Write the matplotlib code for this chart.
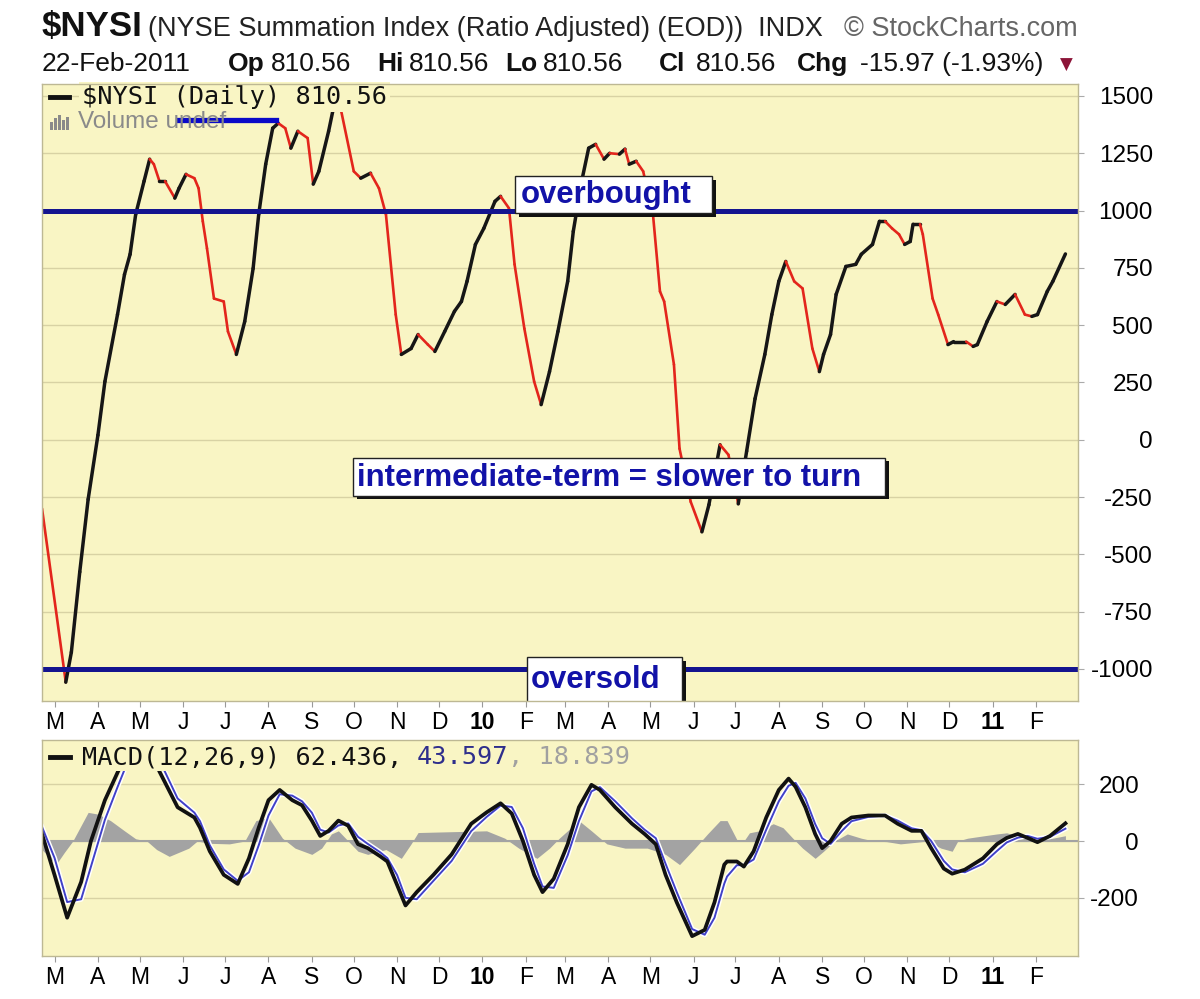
import matplotlib
matplotlib.use("Agg")
import matplotlib.pyplot as plt
import matplotlib.dates as mdates
from matplotlib.collections import LineCollection
from matplotlib.patches import Rectangle
from matplotlib.lines import Line2D
from matplotlib.ticker import FixedLocator
import matplotlib.patheffects as pe
import numpy as np
import pandas as pd

# ---------------- data ----------------
nysi_dates = [
    "2009-02-20", "2009-03-09", "2009-03-13", "2009-03-19", "2009-03-25", "2009-04-01",
    "2009-04-06", "2009-04-15", "2009-04-20", "2009-04-24", "2009-04-28", "2009-05-04",
    "2009-05-08", "2009-05-11", "2009-05-15", "2009-05-19", "2009-05-26", "2009-05-29",
    "2009-06-03", "2009-06-09", "2009-06-12", "2009-06-15", "2009-06-18", "2009-06-23",
    "2009-06-30", "2009-07-03", "2009-07-09", "2009-07-15", "2009-07-21", "2009-07-25",
    "2009-07-30", "2009-08-04", "2009-08-08", "2009-08-13", "2009-08-17", "2009-08-22",
    "2009-08-29", "2009-09-02", "2009-09-06", "2009-09-13", "2009-09-16", "2009-09-18",
    "2009-09-22", "2009-10-01", "2009-10-06", "2009-10-13", "2009-10-19", "2009-10-24",
    "2009-10-31", "2009-11-04", "2009-11-11", "2009-11-16", "2009-11-23", "2009-11-28",
    "2009-12-05", "2009-12-12", "2009-12-17", "2009-12-21", "2009-12-27", "2010-01-02",
    "2010-01-10", "2010-01-14", "2010-01-20", "2010-01-24", "2010-01-31", "2010-02-07",
    "2010-02-12", "2010-02-18", "2010-02-24", "2010-03-03", "2010-03-07", "2010-03-13",
    "2010-03-18", "2010-03-23", "2010-03-29", "2010-04-02", "2010-04-09", "2010-04-13",
    "2010-04-16", "2010-04-21", "2010-04-26", "2010-05-03", "2010-05-08", "2010-05-11",
    "2010-05-18", "2010-05-22", "2010-05-30", "2010-06-07", "2010-06-12", "2010-06-20",
    "2010-06-26", "2010-07-03", "2010-07-09", "2010-07-15", "2010-07-22", "2010-07-27",
    "2010-08-01", "2010-08-06", "2010-08-12", "2010-08-18", "2010-08-25", "2010-08-30",
    "2010-09-02", "2010-09-07", "2010-09-11", "2010-09-18", "2010-09-25", "2010-09-29",
    "2010-10-07", "2010-10-12", "2010-10-16", "2010-10-21", "2010-10-26", "2010-10-30",
    "2010-11-03", "2010-11-05", "2010-11-10", "2010-11-12", "2010-11-19", "2010-11-23",
    "2010-11-30", "2010-12-04", "2010-12-13", "2010-12-18", "2010-12-21", "2010-12-28",
    "2011-01-04", "2011-01-10", "2011-01-17", "2011-01-24", "2011-01-29", "2011-02-02",
    "2011-02-09", "2011-02-13", "2011-02-22",
]
nysi_values = [
    -300, -1058, -927, -577, -260, 20,
    254, 546, 721, 809, 983, 1128,
    1224, 1202, 1128, 1128, 1054, 1097,
    1158, 1141, 1097, 953, 835, 616,
    603, 472, 372, 516, 747, 983,
    1202, 1359, 1381, 1359, 1272, 1346,
    1316, 1115, 1171, 1346, 1434, 1480,
    1434, 1171, 1141, 1163, 1097, 983,
    546, 372, 398, 459, 415, 385,
    472, 560, 603, 691, 852, 922,
    1040, 1062, 1010, 765, 485, 254,
    153, 297, 472, 691, 909, 1128,
    1272, 1289, 1224, 1250, 1246, 1268,
    1202, 1215, 1171, 983, 647, 603,
    328, -39, -271, -402, -284, -22,
    -66, -280, -50, 179, 372, 546,
    691, 778, 691, 660, 398, 297,
    372, 459, 634, 756, 765, 809,
    852, 953, 953, 922, 896, 852,
    865, 940, 940, 896, 616, 546,
    415, 428, 428, 407, 415, 516,
    603, 590, 634, 546, 538, 546,
    647, 691, 810.56,
]

macd_dates = [
    "2009-02-20", "2009-03-01", "2009-03-10", "2009-03-20", "2009-03-27", "2009-04-06",
    "2009-04-15", "2009-04-24", "2009-04-30", "2009-05-15", "2009-05-28", "2009-06-09",
    "2009-06-13", "2009-06-20", "2009-06-30", "2009-07-10", "2009-07-18", "2009-07-25",
    "2009-08-01", "2009-08-09", "2009-08-18", "2009-08-25", "2009-09-01", "2009-09-07",
    "2009-09-13", "2009-09-20", "2009-09-27", "2009-10-04", "2009-10-11", "2009-10-20",
    "2009-10-25", "2009-11-01", "2009-11-07", "2009-11-15", "2009-11-27", "2009-12-10",
    "2009-12-24", "2010-01-04", "2010-01-14", "2010-01-22", "2010-01-30", "2010-02-07",
    "2010-02-13", "2010-02-21", "2010-03-03", "2010-03-11", "2010-03-20", "2010-03-26",
    "2010-04-06", "2010-04-18", "2010-04-27", "2010-05-05", "2010-05-12", "2010-05-20",
    "2010-05-31", "2010-06-09", "2010-06-16", "2010-06-23", "2010-06-25", "2010-07-02",
    "2010-07-07", "2010-07-14", "2010-07-23", "2010-08-01", "2010-08-08", "2010-08-13",
    "2010-08-20", "2010-08-27", "2010-09-01", "2010-09-07", "2010-09-15", "2010-09-22",
    "2010-10-04", "2010-10-16", "2010-10-25", "2010-11-04", "2010-11-11", "2010-11-18",
    "2010-11-27", "2010-12-03", "2010-12-12", "2010-12-25", "2011-01-04", "2011-01-11",
    "2011-01-19", "2011-01-26", "2011-02-02", "2011-02-11", "2011-02-22",
]
macd_values = [
    25, -120, -270, -144, 0, 144,
    241, 340, 420, 245, 119, 83,
    47, -36, -119, -151, -61, 47,
    144, 180, 144, 126, 72, 18,
    36, 72, 54, -11, -25, -54,
    -72, -155, -227, -180, -119, -47,
    61, 101, 133, 97, 0, -119,
    -180, -133, -11, 119, 198, 180,
    119, 61, 25, -11, -119, -216,
    -335, -313, -216, -83, -72, -72,
    -90, -36, 83, 180, 220, 191,
    119, 25, -25, 0, 61, 83,
    90, 90, 61, 36, 36, -25,
    -97, -115, -101, -61, -11, 11,
    25, 11, -4, 18, 62.436,
]
signal_values = [
    50, -60, -215, -205, -90, 75,
    190, 300, 390, 285, 150, 100,
    70, -15, -100, -140, -110, -15,
    90, 165, 160, 140, 100, 40,
    30, 55, 62, 15, -10, -40,
    -60, -120, -200, -205, -140, -70,
    35, 85, 125, 120, 45, -80,
    -160, -165, -50, 70, 175, 190,
    140, 80, 40, 10, -80, -180,
    -310, -330, -270, -150, -125, -85,
    -85, -65, 40, 140, 195, 205,
    150, 60, 10, -10, 35, 70,
    85, 90, 72, 45, 38, 0,
    -70, -100, -110, -80, -35, -5,
    12, 18, 8, 15, 43.597,
]

hist_dates = [
    "2009-02-20", "2009-03-02", "2009-03-08", "2009-03-14", "2009-03-25", "2009-04-01",
    "2009-04-10", "2009-04-20", "2009-04-28", "2009-05-06", "2009-05-13", "2009-05-22",
    "2009-06-05", "2009-06-11", "2009-06-20", "2009-07-04", "2009-07-15", "2009-07-23",
    "2009-08-01", "2009-08-11", "2009-08-20", "2009-09-01", "2009-09-08", "2009-09-15",
    "2009-09-20", "2009-09-27", "2009-10-04", "2009-10-11", "2009-10-24", "2009-11-04",
    "2009-11-11", "2009-11-16", "2010-01-04", "2010-01-17", "2010-01-27", "2010-02-09",
    "2010-02-18", "2010-02-25", "2010-03-11", "2010-03-20", "2010-03-31", "2010-04-13",
    "2010-04-29", "2010-05-12", "2010-05-22", "2010-06-02", "2010-06-11", "2010-06-20",
    "2010-06-25", "2010-07-02", "2010-07-07", "2010-07-11", "2010-07-18", "2010-07-28",
    "2010-08-04", "2010-08-11", "2010-08-18", "2010-08-27", "2010-09-02", "2010-09-10",
    "2010-09-19", "2010-09-29", "2010-10-08", "2010-10-17", "2010-10-27", "2010-11-06",
    "2010-11-15", "2010-11-25", "2010-12-03", "2010-12-07", "2010-12-14", "2010-12-25",
    "2011-01-04", "2011-01-11", "2011-01-19", "2011-02-01", "2011-02-13", "2011-02-22",
]
hist_values = [
    -30, -83, -40, 0, 101, 95,
    72, 36, 8, 0, -30, -54,
    -25, 0, -8, -10, 0, 72,
    83, 10, -25, -47, -25, 25,
    36, 0, -36, -47, -30, -61,
    -10, 30, 36, 10, -25, -61,
    -25, 10, 72, 36, -10, -25,
    -25, -47, -83, -25, 25, 72,
    72, 5, 0, 29, 36, 61,
    47, 10, -25, -61, -36, 0,
    25, 10, 0, -2, -10, -5,
    0, -25, -36, 0, 10, 18,
    25, 29, 18, 5, 10, 18.839,
]

month_labels = ["M", "A", "M", "J", "J", "A", "S", "O", "N", "D", "10", "F",
                "M", "A", "M", "J", "J", "A", "S", "O", "N", "D", "11", "F"]
main_yticks = [1500, 1250, 1000, 750, 500, 250, 0, -250, -500, -750, -1000]
macd_yticks = [200, 0, -200]
overbought_level = 1000
oversold_level = -1000

# ---------------- styling ----------------
W, H = 1200, 999
PANEL = "#f9f5c4"
GRID = "#d8d2a4"
BORDER = "#bdb894"
SANS = ["Liberation Sans", "DejaVu Sans"]
MONO = ["DejaVu Sans Mono"]

plt.rcParams["font.family"] = SANS

fig = plt.figure(figsize=(W / 100, H / 100), dpi=100, facecolor="white")


def px_rect(x0, y0, x1, y1):
    return [x0 / W, 1 - y1 / H, (x1 - x0) / W, (y1 - y0) / H]


ax = fig.add_axes(px_rect(42, 84, 1078, 701))
ax2 = fig.add_axes(px_rect(42, 740, 1078, 956), sharex=ax)

x_start = mdates.date2num(pd.Timestamp("2009-02-20"))
x_end = mdates.date2num(pd.Timestamp("2011-03-03"))
month_range = pd.date_range("2009-03-01", "2011-02-01", freq="MS")
month_starts = mdates.date2num(month_range)
quarter_starts = [m for m, d in zip(month_starts, month_range) if d.month in (1, 4, 7, 10)]

for a in (ax, ax2):
    a.set_facecolor(PANEL)
    for s in a.spines.values():
        s.set_color(BORDER)
        s.set_linewidth(1.0)
        s.set_zorder(10)
    a.xaxis.set_major_locator(FixedLocator(month_starts))
    a.xaxis.set_minor_locator(FixedLocator(quarter_starts))
    a.grid(which="minor", axis="x", color=GRID, lw=1.0)
    a.grid(which="major", axis="y", color=GRID, lw=1.0)
    a.set_axisbelow(True)
    a.yaxis.tick_right()
    a.tick_params(axis="x", which="major", length=4, color="#999999", pad=3.5,
                  labelsize=16.5, labelbottom=True)
    a.tick_params(axis="x", which="minor", length=0)
    a.tick_params(axis="y", length=4, color="#aaaaaa")
    a.set_xlim(x_start, x_end)

# ---- main panel ----
ax.set_ylim(-1140, 1552)
ax.set_yticks(main_yticks)
ax.set_yticklabels([str(v) for v in main_yticks], ha="right")
ax.tick_params(axis="y", labelsize=17.5, pad=50)

xs = mdates.date2num(pd.to_datetime(nysi_dates))
ys = np.array(nysi_values, dtype=float)
pts = np.column_stack([xs, ys])
segs = np.stack([pts[:-1], pts[1:]], axis=1)
rising = np.diff(ys) >= 0
cols = np.where(rising, "#161616", "#e3251c")
lws = np.where(rising, 2.5, 1.9)
lc = LineCollection(segs, colors=cols, linewidths=lws, capstyle="round",
                    joinstyle="round", zorder=3)
ax.add_collection(lc)

ax.axhline(overbought_level, color="#14148f", lw=3.6, zorder=4)
ax.axhline(oversold_level, color="#14148f", lw=3.6, zorder=4)

ax.set_xticklabels(month_labels)


def note_box(a, x0, y0, x1, y1, text, tx, ty):
    fx0 = (x0 - 42) / 1036
    fx1 = (x1 - 42) / 1036
    fy0 = (701 - y1) / 617
    fy1 = (701 - y0) / 617
    dx, dy = 3.5 / 1036, 3.5 / 617
    a.add_patch(Rectangle((fx0 + dx, fy0 - dy), fx1 - fx0, fy1 - fy0,
                          transform=a.transAxes, facecolor="#111111",
                          edgecolor="none", zorder=5))
    a.add_patch(Rectangle((fx0, fy0), fx1 - fx0, fy1 - fy0,
                          transform=a.transAxes, facecolor="white",
                          edgecolor="#222222", lw=1.0, zorder=6))
    a.text((tx - 42) / 1036, (701 - ty) / 617, text, transform=a.transAxes,
           ha="left", va="center", fontsize=22.4, fontweight="bold",
           color="#1212a8", zorder=7)


note_box(ax, 515, 176, 712, 213, "overbought", 521, 195)
note_box(ax, 353, 458, 885, 496, "intermediate-term = slower to turn", 357, 478)
note_box(ax, 527, 657, 682, 706, "oversold", 531, 680)

# legend of main panel
leg_fs = 18.2
char_w = 0.602 * leg_fs * 100 / 72
ax.text((82 - 42) / 1036, (701 - 97) / 617, "$NYSI (Daily) 810.56",
        transform=ax.transAxes, family=MONO, fontsize=leg_fs, color="#111111",
        va="center", ha="left", zorder=8,
        bbox=dict(facecolor=PANEL, edgecolor="none", pad=2.0))
fig.add_artist(Line2D([50 / W, 69 / W], [1 - 97 / H, 1 - 97 / H],
                      color="#111111", lw=3.5))
for bx, bh in [(50, 8), (54, 12), (58, 15), (62, 10), (66, 13)]:
    fig.add_artist(Rectangle((bx / W, 1 - 130 / H), 3 / W, bh / H,
                             facecolor="#8a8a8a", edgecolor="none"))
fig.text(78 / W, 1 - 122 / H, "Volume undef", fontsize=17.5, color="#8a8a8a",
         va="center", ha="left", family=SANS)
fig.add_artist(Line2D([178 / W, 276 / W], [1 - 120 / H, 1 - 120 / H],
                      color="#0a0ac8", lw=3.8))

# ---- MACD panel ----
ax2.set_ylim(-405, 356)
ax2.set_yticks(macd_yticks)
ax2.set_yticklabels([str(v) for v in macd_yticks], ha="right")
ax2.tick_params(axis="y", labelsize=17.5, pad=40)

hx = mdates.date2num(pd.to_datetime(hist_dates))
ax2.fill_between(hx, 0, hist_values, color="#a3a3a3", lw=0, zorder=2)
ax2.axhline(0, color="#a3a3a3", lw=1.5, zorder=2)

mx = mdates.date2num(pd.to_datetime(macd_dates))
ax2.plot(mx, signal_values, color="#4040c8", lw=1.4, zorder=3,
         path_effects=[pe.Stroke(linewidth=3.6, foreground="white"), pe.Normal()])
ax2.plot(mx, macd_values, color="#111111", lw=2.7, zorder=4)
ax2.set_xticklabels(month_labels)

# legend strip hides the lines running under the MACD label
strip_h = (771 - 740) / 216
ax2.add_patch(Rectangle((0, 1 - strip_h), (662 - 42) / 1036, strip_h,
                        transform=ax2.transAxes, facecolor=PANEL,
                        edgecolor="none", zorder=6))

for a in (ax, ax2):
    for lab in a.get_xticklabels():
        if lab.get_text() in ("10", "11"):
            lab.set_fontweight("bold")

parts = [("MACD(12,26,9) 62.436, ", "#111111"), ("43.597", "#2e2e8c"), (", 18.839", "#a0a0a0")]
cx = 82
for txt, c in parts:
    fig.text(cx / W, 1 - 757 / H, txt, family=MONO, fontsize=leg_fs, color=c,
             va="center", ha="left", zorder=8)
    cx += char_w * len(txt)
fig.add_artist(Line2D([50 / W, 70 / W], [1 - 757 / H, 1 - 757 / H],
                      color="#111111", lw=3.5))

# ---------------- header ----------------
fig.text(42 / W, 1 - 36 / H, "$NYSI", fontsize=25, fontweight="bold",
         va="baseline", ha="left", color="#111111")
fig.text(148 / W, 1 - 36 / H, "(NYSE Summation Index (Ratio Adjusted) (EOD))  INDX",
         fontsize=19.5, va="baseline", ha="left", color="#222222")
fig.text(1078 / W, 1 - 36 / H, "© StockCharts.com", fontsize=19.5,
         va="baseline", ha="right", color="#666666")

row2 = [(42, "22-Feb-2011", "normal"), (228, "Op", "bold"), (271, "810.56", "normal"),
        (377, "Hi", "bold"), (409, "810.56", "normal"), (505, "Lo", "bold"),
        (543, "810.56", "normal"), (659, "Cl", "bold"), (696, "810.56", "normal"),
        (797, "Chg", "bold"), (860, "-15.97 (-1.93%)", "normal")]
for x0, txt, wgt in row2:
    fig.text(x0 / W, 1 - 71 / H, txt, fontsize=19, fontweight=wgt,
             va="baseline", ha="left", color="#111111")
fig.text(1060 / W, 1 - 70 / H, "▼", fontsize=12, color="#8c1438",
         va="baseline", ha="left", family=["DejaVu Sans"])

fig.savefig("out.png", dpi=100, facecolor="white")
